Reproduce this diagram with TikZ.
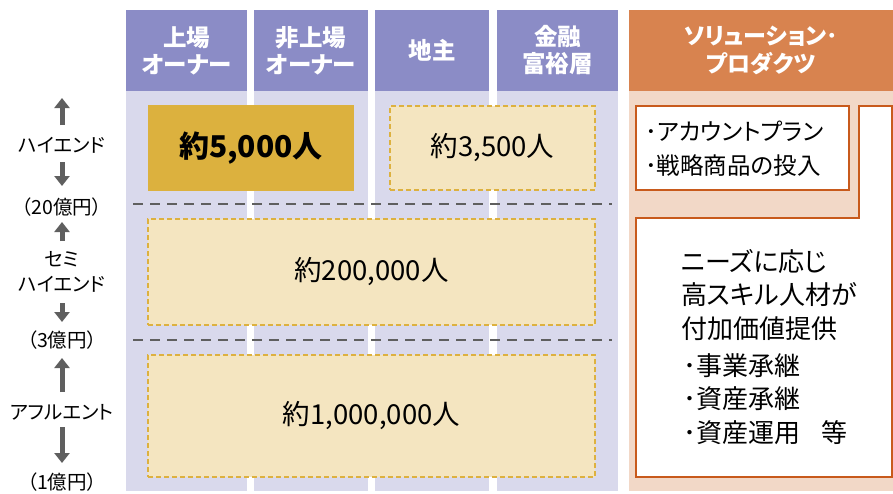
\documentclass[tikz,border=0pt]{standalone}
\usepackage{fontspec}
\setmainfont{Noto Sans CJK JP}[RawFeature={+palt}]
\usetikzlibrary{arrows.meta}
\definecolor{hdrP}{HTML}{8B8CC6}
\definecolor{bodyP}{HTML}{D9D9EC}
\definecolor{hdrO}{HTML}{D8834F}
\definecolor{bodyO}{HTML}{F2D8C7}
\definecolor{goldF}{HTML}{DCB13E}
\definecolor{lgoldF}{HTML}{F4E5C0}
\definecolor{goldD}{HTML}{DDB13F}
\definecolor{oline}{HTML}{C85A1C}
\definecolor{gline}{HTML}{5F5F5F}
\begin{document}
\begin{tikzpicture}[x=1pt,y=-1pt,
  colhdr/.style={fill=hdrP, text=white, font=\fontsize{23.5}{27}\selectfont\bfseries, align=center, inner sep=0pt},
  colbody/.style={fill=bodyP, inner sep=0pt},
  ohdr/.style={fill=hdrO, text=white, font=\fontsize{23}{28}\selectfont\bfseries, align=center, inner sep=0pt},
  obody/.style={fill=bodyO, inner sep=0pt},
  goldbox/.style={fill=goldF, inner sep=0pt, font=\fontsize{30}{33}\selectfont\bfseries},
  dbox/.style={fill=lgoldF, draw=goldD, line width=1.6pt, dash pattern=on 5pt off 3pt, inner sep=0pt, font=\fontsize{27.5}{30}\selectfont},
  sepline/.style={draw=gline, line width=2pt, dash pattern=on 10pt off 7pt},
  lbl/.style={font=\fontsize{19.5}{25}\selectfont, align=center, inner sep=0pt},
  garrow/.style={draw=gline, line width=5pt, -{Triangle[width=15pt,length=10pt]}},
  wbox/.style={fill=white, draw=oline, line width=1.8pt},
  wtext/.style={font=\fontsize{26}{33.5}\selectfont, align=left, inner sep=0pt}
]
\useasboundingbox (0,0) rectangle (893,493);
% column bodies
\node[colbody, minimum width=121pt, minimum height=400pt] (b1) at (186.5,291) {};
\node[colbody, minimum width=114pt, minimum height=400pt] (b2) at (311,291) {};
\node[colbody, minimum width=114pt, minimum height=400pt] (b3) at (432,291) {};
\node[colbody, minimum width=121pt, minimum height=400pt] (b4) at (557.5,291) {};
\node[obody, minimum width=264pt, minimum height=400pt] (bo) at (761,291) {};
% headers
\node[colhdr, minimum width=121pt, minimum height=81pt] (h1) at (186.5,50.5) {上場\\オーナー};
\node[colhdr, minimum width=114pt, minimum height=81pt] (h2) at (311,50.5) {非上場\\オーナー};
\node[colhdr, minimum width=114pt, minimum height=81pt] (h3) at (432,50.5) {地主};
\node[colhdr, minimum width=121pt, minimum height=81pt] (h4) at (557.5,50.5) {金融\\富裕層};
\node[ohdr, minimum width=264pt, minimum height=81pt] (ho) at (761,50.5) {ソリューション･\\プロダクツ};
% population boxes
\node[goldbox, minimum width=206pt, minimum height=86pt] (p1) at (251,148) {約5,000人};
\node[dbox, minimum width=205pt, minimum height=84pt] (p2) at (492.5,148) {約3,500人};
\node[dbox, minimum width=447pt, minimum height=106pt] (p3) at (371.5,272) {約200,000人};
\node[dbox, minimum width=447pt, minimum height=122pt] (p4) at (371.5,416) {約1,000,000人};
% separators
\coordinate (s1a) at (133,203.5); \coordinate (s1b) at (612,203.5);
\coordinate (s2a) at (133,340); \coordinate (s2b) at (612,340);
\draw[sepline] (s1a) -- (s1b);
\draw[sepline] (s2a) -- (s2b);
% right side
\node[wbox, minimum width=213pt, minimum height=84pt] (r1) at (742.5,148) {};
\node[wtext, anchor=west, font=\fontsize{23.5}{34}\selectfont] (r1t) at (645,149) {･アカウントプラン\\･戦略商品の投入};
\draw[wbox] (859,106) -- (859,218) -- (636,218) -- (636,477) -- (892,477) -- (892,106) -- cycle;
\node[wtext, anchor=north west] (r2t) at (681,249) {ニーズに応じ\\高スキル人材が\\付加価値提供};
\node[wtext, anchor=north west] (r3t) at (683,353) {･事業承継\\･資産承継\\･資産運用\hspace{0.8em}等};
% left labels
\node[lbl] (l1) at (62,145) {ハイエンド};
\node[lbl] (l2) at (62,207) {（20億円）};
\node[lbl] (l3) at (62,272) {セミ\\ハイエンド};
\node[lbl] (l4) at (62,340) {（3億円）};
\node[lbl] (l5) at (62,412) {アフルエント};
\node[lbl] (l6) at (62,482) {（1億円）};
\coordinate (a1s) at (62,125); \coordinate (a1e) at (62,98);
\coordinate (a2s) at (62,162); \coordinate (a2e) at (62,186);
\coordinate (a3s) at (62,241); \coordinate (a3e) at (62,222);
\coordinate (a4s) at (62,303); \coordinate (a4e) at (62,322);
\coordinate (a5s) at (62,392); \coordinate (a5e) at (62,358);
\coordinate (a6s) at (62,427); \coordinate (a6e) at (62,463);
\draw[garrow] (a1s) -- (a1e);
\draw[garrow] (a2s) -- (a2e);
\draw[garrow] (a3s) -- (a3e);
\draw[garrow] (a4s) -- (a4e);
\draw[garrow] (a5s) -- (a5e);
\draw[garrow] (a6s) -- (a6e);
\end{tikzpicture}
\end{document}
